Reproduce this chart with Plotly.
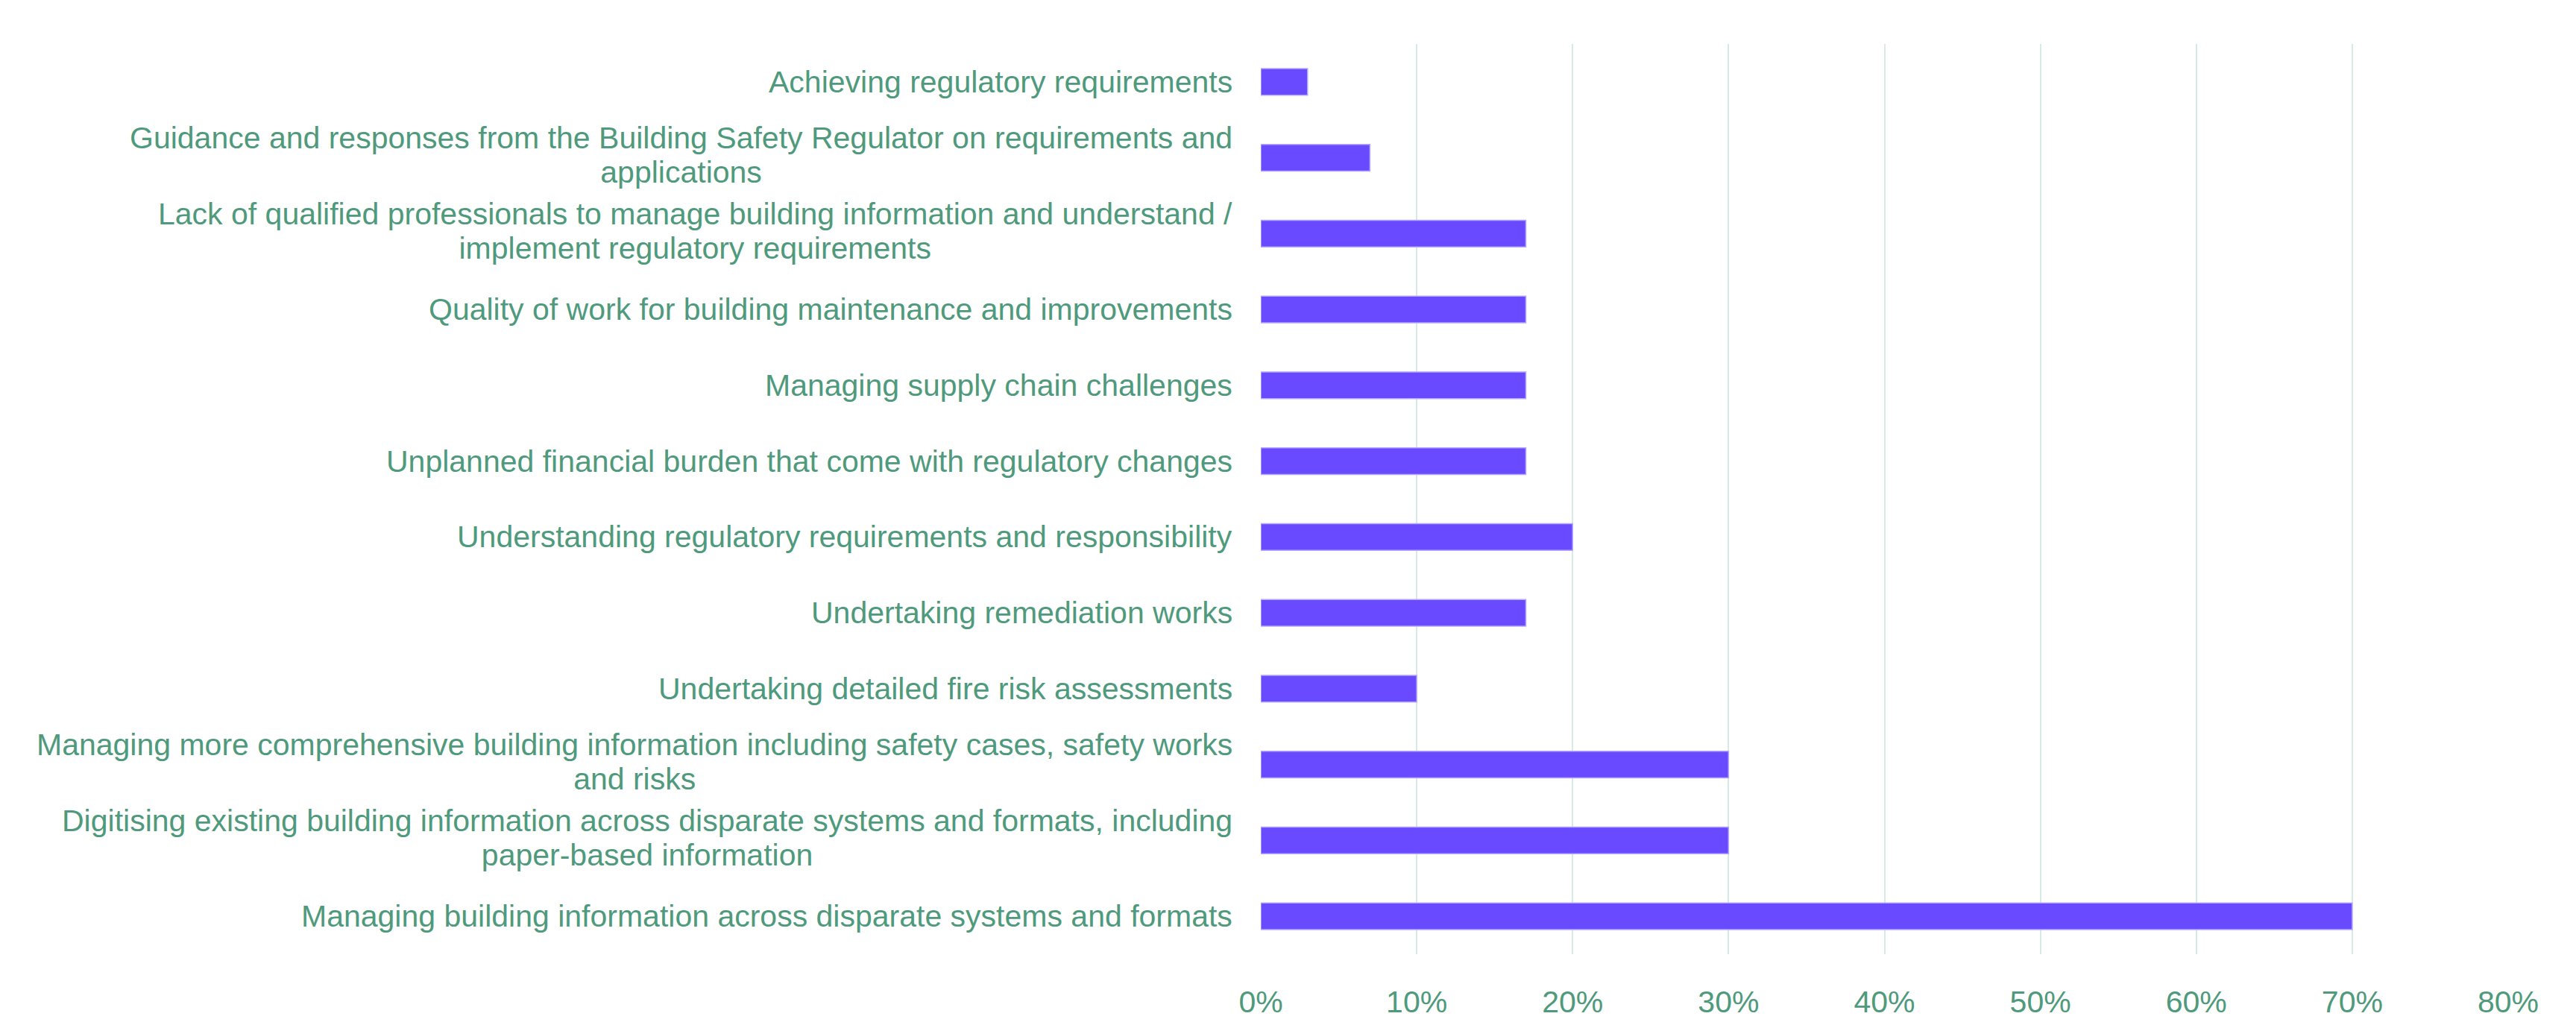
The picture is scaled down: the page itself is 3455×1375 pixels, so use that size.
import plotly.graph_objects as go

categories = [
    "Achieving regulatory requirements",
    "Guidance and responses from the Building Safety Regulator on requirements and applications",
    "Lack of qualified professionals to manage building information and understand / implement regulatory requirements",
    "Quality of work for building maintenance and improvements",
    "Managing supply chain challenges",
    "Unplanned financial burden that come with regulatory changes",
    "Understanding regulatory requirements and responsibility",
    "Undertaking remediation works",
    "Undertaking detailed fire risk assessments",
    "Managing more comprehensive building information including safety cases, safety works and risks",
    "Digitising existing building information across disparate systems and formats, including paper-based information",
    "Managing building information across disparate systems and formats",
]
display_labels = [
    "Achieving regulatory requirements",
    "Guidance and responses from the Building Safety Regulator on requirements and<br>applications",
    "Lack of qualified professionals to manage building information and understand /<br>implement regulatory requirements",
    "Quality of work for building maintenance and improvements",
    "Managing supply chain challenges",
    "Unplanned financial burden that come with regulatory changes",
    "Understanding regulatory requirements and responsibility",
    "Undertaking remediation works",
    "Undertaking detailed fire risk assessments",
    "Managing more comprehensive building information including safety cases, safety works<br>and risks",
    "Digitising existing building information across disparate systems and formats, including<br>paper-based information",
    "Managing building information across disparate systems and formats",
]
values = [3, 7, 17, 17, 17, 17, 20, 17, 10, 30, 30, 70]
x_tickvals = [0, 10, 20, 30, 40, 50, 60, 70, 80]
x_ticktext = ["0%", "10%", "20%", "30%", "40%", "50%", "60%", "70%", "80%"]

GREEN = "#4f9a7c"
GRID = "#d6ebe6"
BAR = "#6a4aff"
FONT = "Liberation Sans, Arial, Helvetica, sans-serif"
FS = 41

fig = go.Figure()
fig.add_trace(go.Bar(
    x=values,
    y=categories,
    orientation="h",
    marker=dict(color=BAR, line=dict(color="#b3a6ff", width=1.5)),
    hoverinfo="x+y",
))

for cat, lab in zip(categories, display_labels):
    fig.add_annotation(
        x=0, xref="paper", y=cat, yref="y",
        text=lab, showarrow=False,
        xanchor="right", yanchor="middle", align="center",
        xshift=-36,
        font=dict(family=FONT, size=FS, color=GREEN),
    )

fig.update_layout(
    width=3455, height=1375,
    margin=dict(l=1683, r=99, t=51, b=103, autoexpand=False),
    paper_bgcolor="white", plot_bgcolor="white",
    bargap=0.65,
    showlegend=False,
    font=dict(family=FONT, size=FS, color=GREEN),
    xaxis=dict(
        range=[0, 80], tickmode="array", tickvals=x_tickvals, ticktext=x_ticktext,
        showgrid=True, gridcolor=GRID, gridwidth=2,
        zeroline=False, showline=False,
        ticks="outside", ticklen=0, ticklabelstandoff=28,
        tickfont=dict(family=FONT, size=FS, color=GREEN),
    ),
    yaxis=dict(
        categoryorder="array", categoryarray=categories,
        autorange="reversed",
        showticklabels=False, showgrid=False, zeroline=False,
    ),
)

# tighten line spacing of wrapped labels (reference uses ~1.12em)
post_js = """
var gd = document.getElementById('{plot_id}');
gd.querySelectorAll('.annotation-text tspan.line').forEach(function(t){
  var dy = parseFloat(t.getAttribute('dy'));
  if (dy > 0) { t.setAttribute('dy', (dy * 1.12 / 1.3) + 'em'); }
});
"""

fig.write_html("out.html", post_script=post_js)
